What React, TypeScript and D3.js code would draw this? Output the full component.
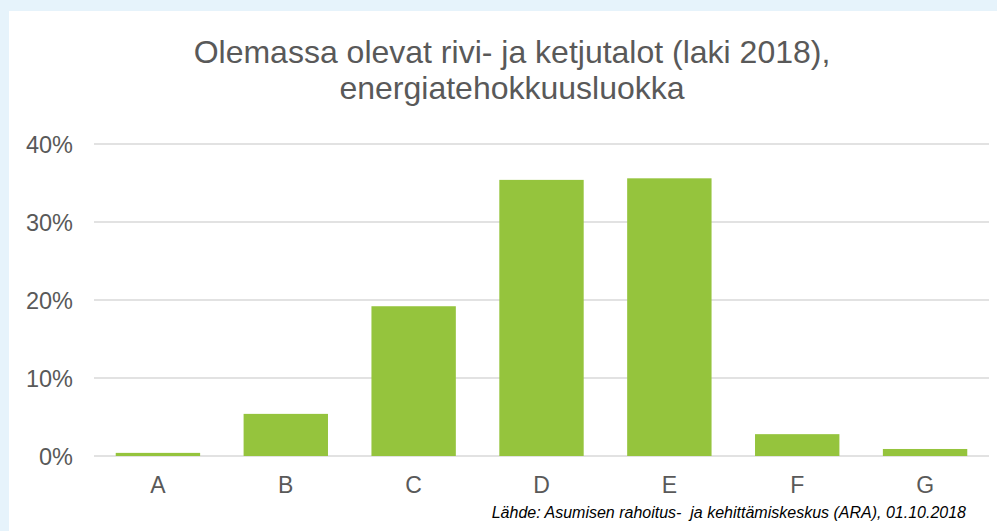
import { useRef, useEffect } from 'react';
import * as d3 from 'd3';

const CATEGORIES = ['A', 'B', 'C', 'D', 'E', 'F', 'G'];
const SHARES = [0.004, 0.054, 0.192, 0.354, 0.356, 0.028, 0.009];
const Y_TICKS = [0, 0.1, 0.2, 0.3, 0.4];
const TITLE_LINES = ['Olemassa olevat rivi- ja ketjutalot (laki 2018),', 'energiatehokkuusluokka'];
const SOURCE = 'Lähde: Asumisen rahoitus-  ja kehittämiskeskus (ARA), 01.10.2018';

const BAR = '#95c43d';
const TEXT = '#595959';
const GRID = '#d9d9d9';
const FONT = '"Liberation Sans", Arial, sans-serif';

export default function App() {
  const ref = useRef<SVGSVGElement | null>(null);

  useEffect(() => {
    const W = 997, H = 531;
    const svg = d3.select(ref.current);
    svg.selectAll('*').remove();

    svg.append('rect').attr('width', W).attr('height', H).attr('fill', '#e6f3fb');
    svg.append('rect').attr('x', 9).attr('y', 11).attr('width', W - 9).attr('height', H - 11).attr('fill', '#fff');

    const m = { top: 144, right: 8, bottom: 75, left: 94 };
    const iw = W - m.left - m.right;
    const ih = H - m.top - m.bottom;
    const g = svg.append('g').attr('transform', `translate(${m.left},${m.top})`);

    const x = d3.scaleBand().domain(CATEGORIES).range([0, iw]).paddingInner(0.34).paddingOuter(0.17);
    const y = d3.scaleLinear().domain([0, 0.4]).range([ih, 0]);

    // gridlines
    g.selectAll('line.grid').data(Y_TICKS).enter().append('line')
      .attr('x1', 0).attr('x2', iw)
      .attr('y1', d => y(d)).attr('y2', d => y(d))
      .attr('stroke', GRID).attr('stroke-width', 1.5);

    // y labels
    g.selectAll('text.ytick').data(Y_TICKS).enter().append('text')
      .attr('x', -21).attr('y', d => y(d) + 8.5)
      .attr('text-anchor', 'end').attr('fill', TEXT)
      .style('font-family', FONT).style('font-size', '23.5px')
      .text(d => d3.format('.0%')(d));

    // bars
    g.selectAll('rect.bar').data(SHARES).enter().append('rect')
      .attr('x', (_, i) => x(CATEGORIES[i])!)
      .attr('width', x.bandwidth())
      .attr('y', d => y(d))
      .attr('height', d => ih - y(d))
      .attr('fill', BAR);

    // x labels
    g.selectAll('text.xtick').data(CATEGORIES).enter().append('text')
      .attr('x', d => x(d)! + x.bandwidth() / 2).attr('y', ih + 37)
      .attr('text-anchor', 'middle').attr('fill', TEXT)
      .style('font-family', FONT).style('font-size', '23px')
      .text(d => d);

    // title
    svg.selectAll('text.title').data(TITLE_LINES).enter().append('text')
      .attr('x', 512).attr('y', (_, i) => 62.5 + i * 36)
      .attr('text-anchor', 'middle').attr('fill', TEXT)
      .style('font-family', FONT).style('font-size', '32px')
      .text(d => d);

    svg.append('text')
      .attr('x', 966).attr('y', 518).attr('text-anchor', 'end')
      .attr('fill', '#000').style('font-style', 'italic')
      .style('white-space', 'pre')
      .style('font-family', FONT).style('font-size', '16px')
      .text(SOURCE);
  }, []);

  return (
    <svg ref={ref} width={997} height={531}
      style={{ position: 'absolute', left: 0, top: 0, display: 'block' }} />
  );
}
